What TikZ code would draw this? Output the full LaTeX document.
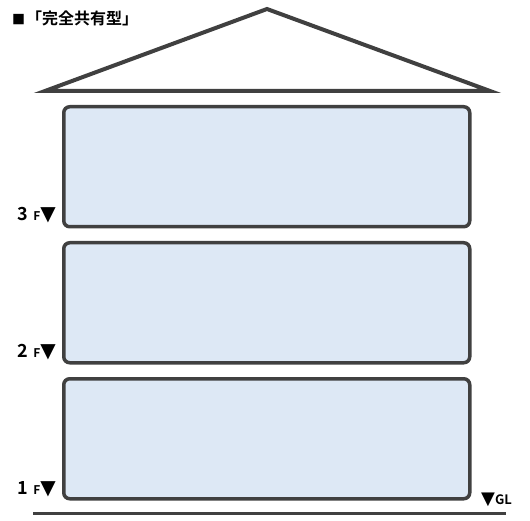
\documentclass[tikz,border=0pt]{standalone}
\usepackage{fontspec}
\setmainfont{Noto Sans}
\newfontfamily\cjk[BoldFont={Noto Sans CJK JP Bold}]{Noto Sans CJK JP}
\newfontfamily\dv{DejaVu Sans}
\definecolor{edge}{HTML}{404040}
\definecolor{floorfill}{HTML}{DDE8F5}
\begin{document}
\begin{tikzpicture}[x=1pt,y=-1pt,
  floorbox/.style={draw=edge,line width=3.5pt,fill=floorfill,rounded corners=6pt},
  flabel/.style={anchor=east,inner sep=0pt,font=\cjk\bfseries,text=black}]
\useasboundingbox (0,0) rectangle (530,521);
\node[anchor=west,inner sep=0pt,font=\cjk\bfseries\fontsize{16}{16}\selectfont] (title) at (12,18) {{\fontsize{13}{13}\selectfont ■}\hspace{1pt}「完全共有型」};
\coordinate (apex) at (267,9);
\coordinate (rl) at (45,91);
\coordinate (rr) at (490,91);
\draw[edge,line width=4pt,line join=miter] (rl) -- (apex) -- (rr) -- cycle;
\node[floorbox,minimum width=406pt,minimum height=120pt,inner sep=0pt,anchor=north west] (f3) at (62,105) {};
\node[floorbox,minimum width=406pt,minimum height=120pt,inner sep=0pt,anchor=north west] (f2) at (62,241) {};
\node[floorbox,minimum width=406pt,minimum height=120pt,inner sep=0pt,anchor=north west] (f1) at (62,377) {};
\coordinate (gl) at (33,513);
\coordinate (gr) at (506,513);
\draw[edge,line width=3pt] (gl) -- (gr);
\newcommand\flr[1]{{\fontsize{18}{18}\selectfont #1}\hspace{5pt}{\fontsize{12}{12}\selectfont F}{\dv\fontsize{20}{20}\selectfont ▼}}
\node[flabel] (l3) at (56,215) {\flr{3}};
\node[flabel] (l2) at (56,352) {\flr{2}};
\node[flabel] (l1) at (56,489) {\flr{1}};
\node[anchor=west,inner sep=0pt,font=\cjk\bfseries] (glab) at (481,500) {{\dv\fontsize{18}{18}\selectfont ▼}\fontsize{13}{13}\selectfont GL};
\end{tikzpicture}
\end{document}
